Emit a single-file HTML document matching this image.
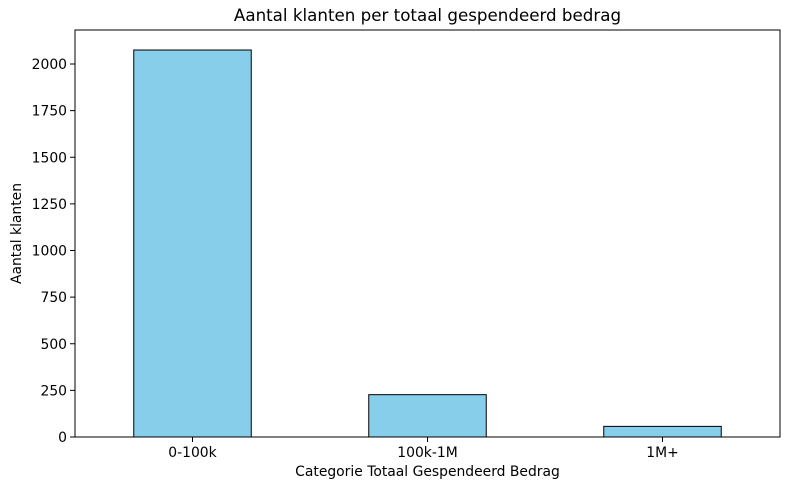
<!DOCTYPE html>
<html><head><meta charset="utf-8"><style>body{margin:0;background:#fff}svg{font-family:"DejaVu Sans","Liberation Sans",sans-serif}</style></head>
<body>
<svg id="chart" width="790" height="490" xmlns="http://www.w3.org/2000/svg">
<text x="427.5" y="21" text-anchor="middle" font-size="16.7">Aantal klanten per totaal gespendeerd bedrag</text>
<g id="plot"></g>
<text x="427.5" y="476" text-anchor="middle" font-size="13.9">Categorie Totaal Gespendeerd Bedrag</text>
<text transform="translate(21,233.5) rotate(-90)" text-anchor="middle" font-size="13.9">Aantal klanten</text>
</svg>
<script>
const categories = ["0-100k","100k-1M","1M+"];
const values = [2075, 227, 57];
const yTicks = [0,250,500,750,1000,1250,1500,1750,2000];
const L=75,R=780,T=30,B=437,yMax=2000*(B-T)/373;
const NS="http://www.w3.org/2000/svg";
const g=document.getElementById('plot');
const step=(R-L)/categories.length;
const x=i=>L+step*(i+0.5);
const y=v=>B-v/yMax*(B-T);
function mk(t,a,txt){const e=document.createElementNS(NS,t);for(const k in a)e.setAttribute(k,a[k]);if(txt!==undefined)e.textContent=txt;g.appendChild(e);return e;}
values.forEach((v,i)=>{
 const r=mk('rect',{x:x(i)-step/4,y:y(v),width:step/2,height:B-y(v),fill:'#87ceeb',stroke:'#000','stroke-width':1});
 
 
 const tk=mk('line',{x1:x(i),x2:x(i),y1:B,y2:B+5,stroke:'#000'});
 
 
 const lb=mk('text',{x:x(i),y:B+20,'text-anchor':'middle','font-size':13.9},categories[i]);
 
 
});
yTicks.forEach(t=>{
 const tk=mk('line',{x1:L-5,x2:L,y1:y(t),y2:y(t),stroke:'#000'});
 
 
 const lb=mk('text',{x:L-8,y:y(t)+5,'text-anchor':'end','font-size':13.9},t);
 
 
});
const fr=mk('rect',{x:L,y:T,width:R-L,height:B-T,fill:'none',stroke:'#000','stroke-width':1});


</script>
</body></html>
